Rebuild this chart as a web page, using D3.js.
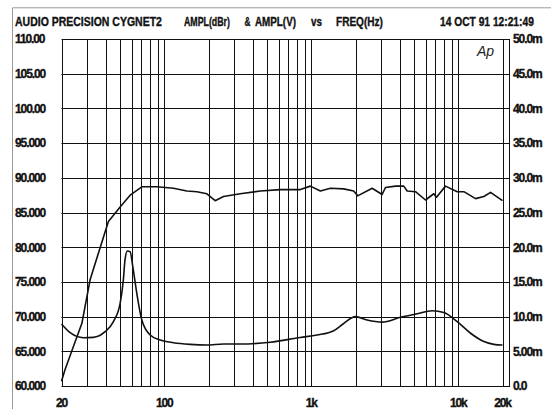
<!DOCTYPE html>
<html>
<head>
<meta charset="utf-8">
<script src="https://cdn.jsdelivr.net/npm/d3@7"></script>
<style>
  body { margin: 0; background: #fff; }
  svg { display: block; }
  text.lbl { font-family: "Liberation Sans", Arial, sans-serif; font-weight: bold; fill: #111; stroke: #111; stroke-width: 0.35px; }
</style>
</head>
<body>
<svg id="chart" width="551" height="409"></svg>
<script>
// Frequenzraster und Achsenbeschriftungen
const gridFreqs = [20, 30, 40, 50, 60, 70, 80, 90, 100, 200, 300, 400, 500, 600, 700, 800, 900,
  1000, 2000, 3000, 4000, 5000, 6000, 7000, 8000, 9000, 10000, 20000];
const xTicks = [20, 100, 1000, 10000, 20000];
const xTickLabels = ["20", "100", "1k", "10k", "20k"];
const leftTicks = [110, 105, 100, 95, 90, 85, 80, 75, 70, 65, 60];
const leftTickLabels = ["110.00", "105.00", "100.00", "95.000", "90.000", "85.000", "80.000", "75.000", "70.000", "65.000", "60.000"];
const rightTicks = [50, 45, 40, 35, 30, 25, 20, 15, 10, 5, 0];
const rightTickLabels = ["50.0m", "45.0m", "40.0m", "35.0m", "30.0m", "25.0m", "20.0m", "15.0m", "10.0m", "5.00m", "0.0"];

// Kurve 1: AMPL(dBr), linke Achse
const dbrFreq = [20, 21.1, 24.1, 27.5, 31.3, 35.6, 41.7, 50.1, 58.6, 70.4, 89, 115.5, 142.6, 166.7, 195, 222, 253, 329,
  450, 615, 843, 986, 1154, 1350, 1662, 1944, 2070, 2596, 3036, 3198, 3740, 4260, 4494, 5118, 5986, 6820, 7112,
  8188, 9840, 10916, 13112, 14936, 16596, 17950, 20000];
const dbrValue = [60.7, 62.3, 65.7, 69.0, 75.3, 79.1, 83.7, 85.8, 87.5, 88.7, 88.7, 88.5, 88.1, 88.0, 87.7, 86.7, 87.3, 87.7,
  88.1, 88.3, 88.3, 88.8, 88.1, 88.5, 88.4, 88.1, 87.4, 88.5, 87.6, 88.6, 88.8, 88.8, 88.1, 88.0, 86.8, 87.7, 87.2,
  88.8, 88.0, 88.0, 87.0, 87.3, 87.9, 87.4, 86.7];

// Kurve 2: AMPL(V) in mV, rechte Achse
const voltFreq = [20, 22.9, 28.2, 32.9, 39.6, 45.1, 50.1, 52.7, 54.1, 56.1, 58.6, 61.1, 65.0, 70.4, 80.2, 93.8, 115.5,
  150, 195, 253, 329, 526, 843, 1094, 1422, 1662, 1996, 2400, 3036, 4046, 5260, 6654, 7978, 9840, 12130, 14936, 17460, 20000];
const voltValue = [8.93, 7.68, 6.96, 7.01, 7.83, 9.27, 11.9, 15.3, 18.2, 19.45, 19.35, 17.2, 13.4, 9.5, 7.35, 6.63, 6.24,
  6.0, 5.9, 6.05, 6.05, 6.3, 7.0, 7.35, 7.97, 9.0, 10.0, 9.5, 9.2, 9.9, 10.4, 10.85, 10.6, 9.27, 7.6, 6.4, 6.0, 5.9];

const svg = d3.select("#chart");

const plotLeft = 61.5, plotRight = 509, plotTop = 39, plotBottom = 386;

const x = d3.scaleLog().domain([20, 20000]).range([plotLeft, 502.5]);
const yL = d3.scaleLinear().domain([60, 110]).range([plotBottom, plotTop]);
const yR = d3.scaleLinear().domain([0, 50]).range([plotBottom, plotTop]);

// Seitenrand vom Scan
svg.append("path")
  .attr("d", `M12.5,409 V7.8 H551`)
  .attr("fill", "none")
  .attr("stroke", "#999")
  .attr("stroke-width", 1);

// Gitter
const grid = svg.append("g").attr("stroke", "#111").attr("stroke-width", 1);
grid.selectAll("line.v")
  .data(gridFreqs)
  .join("line")
  .attr("class", "v")
  .attr("x1", d => Math.round(x(d)) + 0.5)
  .attr("x2", d => Math.round(x(d)) + 0.5)
  .attr("y1", plotTop)
  .attr("y2", plotBottom);
grid.selectAll("line.h")
  .data(leftTicks)
  .join("line")
  .attr("class", "h")
  .attr("x1", plotLeft)
  .attr("x2", plotRight)
  .attr("y1", d => Math.round(yL(d)) + 0.5)
  .attr("y2", d => Math.round(yL(d)) + 0.5);

// Rahmen
svg.append("rect")
  .attr("x", Math.round(plotLeft) + 0.5)
  .attr("y", plotTop + 0.5)
  .attr("width", plotRight - Math.round(plotLeft))
  .attr("height", plotBottom - plotTop)
  .attr("fill", "none")
  .attr("stroke", "#111")
  .attr("stroke-width", 1);

// Kurven
const lineDbr = d3.line()
  .x((d, i) => x(dbrFreq[i]))
  .y(d => yL(d));
svg.append("path")
  .attr("d", lineDbr(dbrValue))
  .attr("fill", "none")
  .attr("stroke", "#111")
  .attr("stroke-width", 1.6)
  .attr("stroke-linejoin", "round");

const lineVolt = d3.line()
  .x((d, i) => x(voltFreq[i]))
  .y(d => yR(d))
  .curve(d3.curveMonotoneX);
svg.append("path")
  .attr("d", lineVolt(voltValue))
  .attr("fill", "none")
  .attr("stroke", "#111")
  .attr("stroke-width", 1.6)
  .attr("stroke-linejoin", "round");

// Achsenbeschriftungen
const labelStyle = sel => sel.attr("class", "lbl").attr("font-size", "12px").attr("letter-spacing", "-1.1px");

svg.append("g").selectAll("text")
  .data(leftTicks)
  .join("text")
  .attr("x", 15)
  .attr("y", d => yL(d) + 4.3)
  .text((d, i) => leftTickLabels[i])
  .call(labelStyle);

svg.append("g").selectAll("text")
  .data(rightTicks)
  .join("text")
  .attr("x", 513)
  .attr("y", d => yR(d) + 4.3)
  .text((d, i) => rightTickLabels[i])
  .call(labelStyle);

svg.append("g").selectAll("text")
  .data(xTicks)
  .join("text")
  .attr("x", d => x(d))
  .attr("y", 407)
  .attr("text-anchor", "middle")
  .text((d, i) => xTickLabels[i])
  .call(labelStyle);

// Titelzeile (schmal gestaucht per scale)
const titleParts = [
  { t: "AUDIO PRECISION CYGNET2", x: 15, w: 147 },
  { t: "AMPL(dBr)", x: 184, w: 46 },
  { t: "&", x: 244.5, w: 6 },
  { t: "AMPL(V)", x: 255, w: 41 },
  { t: "vs", x: 311, w: 11 },
  { t: "FREQ(Hz)", x: 336, w: 47 },
  { t: "14 OCT 91 12:21:49", x: 440, w: 94 }
];
svg.append("g").selectAll("text")
  .data(titleParts)
  .join("text")
  .attr("class", "lbl")
  .attr("font-size", "12px")
  .text(d => d.t)
  .attr("transform", function (d) {
    const natural = this.getComputedTextLength();
    return `translate(${d.x},25.5) scale(${d.w / natural},1)`;
  });

// Ap Logo
svg.append("text")
  .attr("x", 477)
  .attr("y", 56)
  .attr("font-family", "'Liberation Sans', Arial, sans-serif")
  .attr("font-size", "14px")
  .attr("font-style", "italic")
  .attr("fill", "#222")
  .text("Ap");
</script>
</body>
</html>
